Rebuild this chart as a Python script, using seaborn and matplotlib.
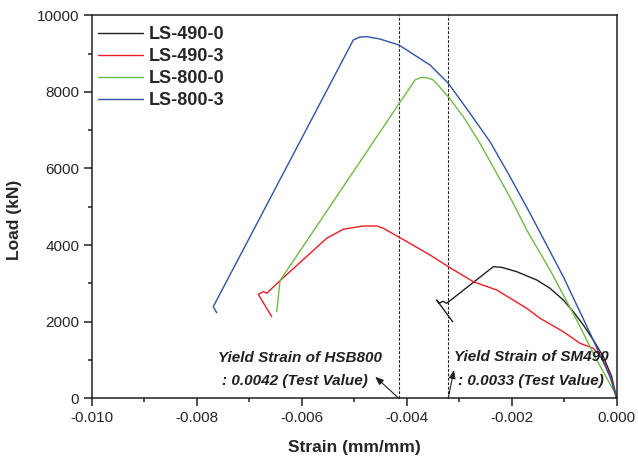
import numpy as np
import pandas as pd
import matplotlib
matplotlib.use("Agg")
import matplotlib.pyplot as plt
from matplotlib.ticker import MultipleLocator
import seaborn as sns

# ---------------- data ----------------
series_names = ["LS-490-0", "LS-490-3", "LS-800-0", "LS-800-3"]

strain_490_0 = [-0.003124, -0.003429, -0.003379, -0.003314, -0.003238, -0.002350, -0.002190,
                -0.001905, -0.001524, -0.001270, -0.001017, -0.000827, -0.000636, -0.000446,
                -0.000255, -0.000095, -0.000038, 0.0]
load_490_0 = [2000, 2565, 2480, 2533, 2480, 3436, 3420, 3306, 3089, 2872, 2567, 2262, 1914,
              1523, 1086, 564, 217, 0]

strain_490_3 = [-0.006571, -0.006827, -0.006731, -0.006667, -0.006413, -0.005524, -0.005208,
                -0.004827, -0.004571, -0.004446, -0.004160, -0.003556, -0.003208, -0.002731,
                -0.002286, -0.001714, -0.001461, -0.001017, -0.000699, -0.000446, -0.000255,
                -0.000095, 0.0]
load_490_3 = [2131, 2715, 2783, 2742, 3071, 4178, 4413, 4499, 4499, 4439, 4219, 3742, 3436,
              3044, 2828, 2350, 2089, 1739, 1436, 1306, 1000, 478, 0]

strain_800_0 = [-0.006476, -0.006413, -0.003842, -0.003728, -0.003619, -0.003493, -0.003208,
                -0.002922, -0.002604, -0.002286, -0.001970, -0.001714, -0.001270, -0.000762,
                -0.000381, -0.000032, 0.0]
load_800_0 = [2261, 3071, 8311, 8376, 8371, 8311, 7875, 7353, 6658, 5875, 5091, 4394, 3350,
              2044, 1000, 138, 0]

strain_800_3 = [-0.007619, -0.007684, -0.005017, -0.004890, -0.004757, -0.004509, -0.004147,
                -0.003556, -0.003208, -0.002794, -0.002413, -0.002032, -0.001651, -0.001017,
                -0.000509, -0.000128, 0.0]
load_800_3 = [2235, 2392, 9355, 9434, 9441, 9381, 9224, 8702, 8225, 7441, 6700, 5786, 4830,
              3175, 1705, 564, 0]

yield_strains = [-0.00415, -0.00321]
yield_text_1 = ["Yield Strain of HSB800", ": 0.0042 (Test Value)"]
yield_text_2 = ["Yield Strain of SM490", ": 0.0033 (Test Value)"]

colors = ["#231f20", "#ed1c24", "#6dbb44", "#2e53a4"]

frames = []
for name, s, l in zip(series_names,
                      [strain_490_0, strain_490_3, strain_800_0, strain_800_3],
                      [load_490_0, load_490_3, load_800_0, load_800_3]):
    frames.append(pd.DataFrame({"strain": s, "load": l, "series": name,
                                "order": np.arange(len(s))}))
df = pd.concat(frames, ignore_index=True)

# ---------------- style ----------------
sns.set_style("ticks")
plt.rcParams["font.family"] = ["Liberation Sans", "DejaVu Sans"]
plt.rcParams["axes.linewidth"] = 1.1

fig = plt.figure(figsize=(6.38, 4.62), dpi=100)
ax = fig.add_axes([0.1437, 0.1379, 0.8229, 0.829])

sns.lineplot(data=df, x="strain", y="load", hue="series", hue_order=series_names,
             palette=colors, sort=False, estimator=None, units="series",
             linewidth=1.0, ax=ax, legend=False)

for xv in yield_strains:
    ax.axvline(xv, color="#231f20", linestyle=(0, (2.5, 1.5)), linewidth=0.8, zorder=1)

ax.set_xlim(-0.010, 0.0)
ax.set_ylim(0, 10000)
ax.xaxis.set_major_locator(MultipleLocator(0.002))
ax.xaxis.set_minor_locator(MultipleLocator(0.001))
ax.yaxis.set_major_locator(MultipleLocator(2000))
ax.yaxis.set_minor_locator(MultipleLocator(1000))
ax.set_xticks([-0.010, -0.008, -0.006, -0.004, -0.002, 0.0])
ax.set_xticklabels(["-0.010", "-0.008", "-0.006", "-0.004", "-0.002", "0.000"])

for sp in ax.spines.values():
    sp.set_visible(True)
    sp.set_color("#231f20")
    sp.set_linewidth(1.1)

ax.tick_params(which="major", direction="out", length=6, width=1.1, color="#231f20",
               labelsize=11, pad=3, top=False, right=False)
ax.tick_params(which="minor", direction="out", length=3.2, width=1.1, color="#231f20",
               top=False, right=False)

ax.set_xlabel("Strain (mm/mm)", fontsize=12.5, fontweight="bold")
ax.set_ylabel("Load (kN)", fontsize=12.5, fontweight="bold")
ax.xaxis.set_label_coords(0.5, -0.108)
ax.yaxis.set_label_coords(-0.133, 0.465)

# legend
handles = [plt.Line2D([0], [0], color=c, lw=1.0) for c in colors]
leg = ax.legend(handles, series_names, loc="upper left", bbox_to_anchor=(0.012, 0.972),
                frameon=False, borderaxespad=0, borderpad=0,
                prop={"size": 13, "weight": "bold"}, handlelength=2.5,
                handletextpad=0.3, labelspacing=0.28)

# annotations
tkw = dict(fontsize=11, fontweight="bold", fontstyle="italic", color="#231f20",
           va="center", ha="left")
ax.text(-0.00759, 1060, yield_text_1[0], **tkw)
ax.text(-0.00752, 452, yield_text_1[1], **tkw)
ax.text(-0.00310, 1086, yield_text_2[0], **tkw)
ax.text(-0.00302, 452, yield_text_2[1], **tkw)

akw = dict(arrowstyle="-|>,head_length=0.5,head_width=0.2", color="#231f20", lw=0.8,
           shrinkA=0, shrinkB=0)
ax.annotate("", xy=(-0.00460, 564), xytext=(yield_strains[0], 0), arrowprops=akw)
ax.annotate("", xy=(-0.00310, 739), xytext=(yield_strains[1], 0), arrowprops=akw)

fig.savefig("out.png", dpi=100)
